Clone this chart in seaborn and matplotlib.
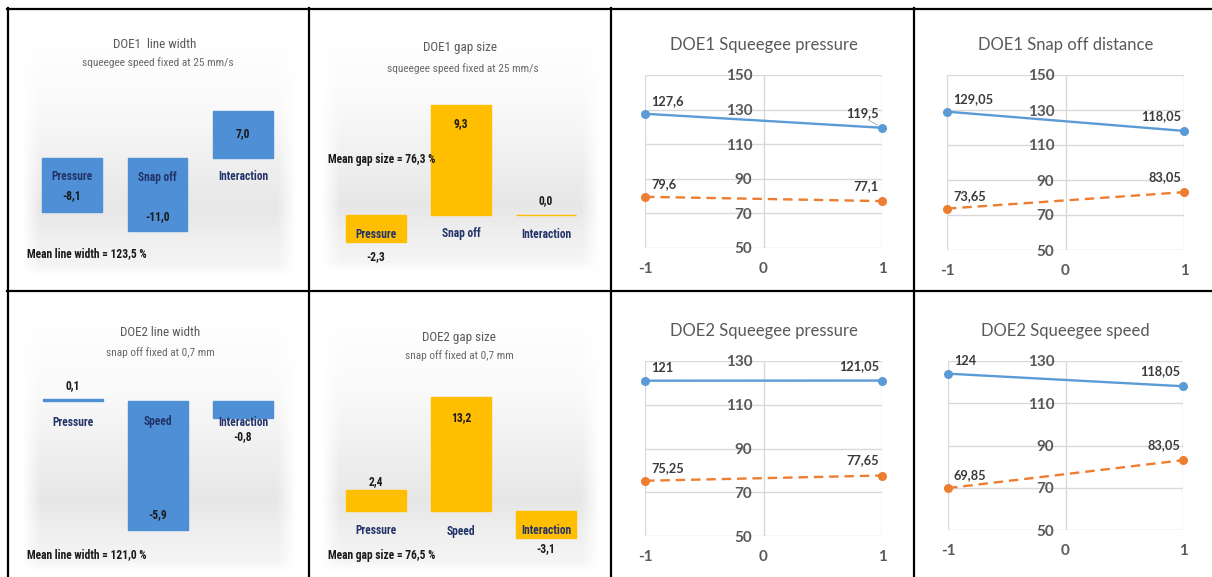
import numpy as np
import pandas as pd
import matplotlib
matplotlib.use("Agg")
import matplotlib.pyplot as plt
from matplotlib import font_manager as fm
from matplotlib.lines import Line2D
import seaborn as sns

# ---------------- data ----------------
bar_categories_doe1 = ["Pressure", "Snap off", "Interaction"]
bar_categories_doe2 = ["Pressure", "Speed", "Interaction"]
doe1_line_width_effects = [-8.1, -11.0, 7.0]
doe1_gap_size_effects = [-2.3, 9.3, 0.0]
doe2_line_width_effects = [0.1, -5.9, -0.8]
doe2_gap_size_effects = [2.4, 13.2, -3.1]
doe1_mean_line_width = 123.5
doe1_mean_gap_size = 76.3
doe2_mean_line_width = 121.0
doe2_mean_gap_size = 76.5

levels = [-1, 1]
doe1_pressure_width = [127.6, 119.5]
doe1_pressure_gap = [79.6, 77.1]
doe1_snap_width = [129.05, 118.05]
doe1_snap_gap = [73.65, 83.05]
doe2_pressure_width = [121.0, 121.05]
doe2_pressure_gap = [75.25, 77.65]
doe2_speed_width = [124.0, 118.05]
doe2_speed_gap = [69.85, 83.05]
ticks_doe1 = [50, 70, 90, 110, 130, 150]
ticks_doe2 = [50, 70, 90, 110, 130]

# ---------------- font selection ----------------
ttf = fm.fontManager.ttflist
names = {f.name for f in ttf}


def has_bold(name):
    return any(f.name == name and (f.weight in ("bold", "semibold", "demibold", "heavy", "black")
                                   or (isinstance(f.weight, int) and f.weight >= 600)) for f in ttf)


NARROW_KW = {"family": ["DejaVu Sans"], "fontstretch": "normal"}
narrow_scale = 0.82
for cand in ["Liberation Sans Narrow", "Roboto Condensed", "Open Sans Condensed",
             "Noto Sans Condensed"]:
    if cand in names:
        NARROW_KW = {"family": [cand, "DejaVu Sans"]}
        narrow_scale = 1.0
        break
else:
    if any(f.name == "DejaVu Sans" and "condensed" in str(f.stretch) for f in ttf):
        NARROW_KW = {"family": ["DejaVu Sans"], "fontstretch": "condensed"}
        narrow_scale = 0.85

LINE_FAMILY = ["DejaVu Sans"]
for cand in ["Lato", "Open Sans", "Roboto", "Noto Sans"]:
    if cand in names and has_bold(cand):
        LINE_FAMILY = [cand, "DejaVu Sans"]
        break
TITLE_FAMILY = ["Lato", "DejaVu Sans"] if "Lato" in names else LINE_FAMILY

# ---------------- figure ----------------
W, H = 1212, 577
fig = plt.figure(figsize=(W / 100, H / 100), dpi=100)
fig.patch.set_facecolor("white")


def add_ax(x0, y0, x1, y1, z=1):
    return fig.add_axes([x0 / W, 1 - y1 / H, (x1 - x0) / W, (y1 - y0) / H], zorder=z)


def ftext(x, y, s, **kw):
    fig.text(x / W, 1 - y / H, s, **kw)


def fmt1(v):
    return f"{v:.1f}".replace(".", ",")


def fmtg(v):
    return f"{v:g}".replace(".", ",")


def gradient_bg(box):
    x0, y0, x1, y1 = box
    ax = add_ax(x0, y0, x1, y1, z=0)
    h, w = int(y1 - y0), int(x1 - x0)
    yy = np.linspace(0, 1, h)[:, None]
    xx = np.arange(w)[None, :]
    vert = np.interp(yy, [0, 0.3, 0.72, 0.85, 1.0], [0.0, 0.2, 0.85, 0.55, 0.3])
    edge = np.clip(np.minimum(xx, w - 1 - xx) / 18.0, 0, 1)
    edge_y = np.clip(np.minimum(np.arange(h), h - 1 - np.arange(h)) / 10.0, 0, 1)[:, None]
    g = vert * edge * edge_y
    img = 1 - 0.11 * g
    ax.imshow(np.dstack([img, img, img]), aspect="auto", extent=(0, 1, 0, 1))
    ax.axis("off")


FS = 8.3 * narrow_scale


def bar_panel(bg_box, first_center, spacing, baseline, scale, cats, vals, color,
              val_offsets, cat_offset, title, title_xy, subtitle, sub_xy,
              mean_text, mean_xy):
    gradient_bg(bg_box)
    top, bottom = bg_box[1], bg_box[3]
    ax = add_ax(first_center - spacing / 2, top, first_center + 2.5 * spacing, bottom, z=2)
    ax.set_facecolor("none")
    df = pd.DataFrame({"cat": cats, "val": vals})
    sns.barplot(data=df, x="cat", y="val", color=color, width=0.7, ax=ax,
                saturation=1, edgecolor=color, linewidth=1)
    ax.set_xlim(-0.5, 2.5)
    ax.set_ylim(-(bottom - baseline) / scale, (baseline - top) / scale)
    ax.axis("off")
    for i, (c, v) in enumerate(zip(cats, vals)):
        ax.annotate(c, xy=(i, 0), xytext=(0, cat_offset), textcoords="offset pixels",
                    ha="center", va="center", fontsize=FS, fontweight="bold",
                    color="#23346A", **NARROW_KW)
        ax.annotate(fmt1(v), xy=(i, v), xytext=(0, val_offsets[i]),
                    textcoords="offset pixels", ha="center", va="center",
                    fontsize=FS, fontweight="bold", color="#1a1a1a", **NARROW_KW)
    ftext(*title_xy, title, ha="center", va="center", fontsize=9.4 * narrow_scale,
          color="#595959", **NARROW_KW)
    ftext(*sub_xy, subtitle, ha="center", va="center", fontsize=8.2 * narrow_scale,
          color="#6a6a6a", **NARROW_KW)
    ftext(*mean_xy, mean_text, ha="left", va="center", fontsize=FS, fontweight="bold",
          color="#1a1a1a", **NARROW_KW)


BLUE_BAR = "#4E8FD6"
GOLD_BAR = "#FFBE00"

bar_panel((22, 35, 296, 276), 72, 85.5, 158, 6.65, bar_categories_doe1,
          doe1_line_width_effects, BLUE_BAR, [16, 15, -22], -19,
          "DOE1  line width", (155, 45), "squeegee speed fixed at 25 mm/s", (158, 63),
          f"Mean line width = {fmt1(doe1_mean_line_width)} %", (27, 254))
bar_panel((322, 35, 600, 272), 376, 85, 215, 11.85, bar_categories_doe1,
          doe1_gap_size_effects, GOLD_BAR, [-14, -19, 14], -19,
          "DOE1 gap size", (460, 48), "squeegee speed fixed at 25 mm/s", (463, 69),
          f"Mean gap size = {fmt1(doe1_mean_gap_size)} %", (328, 159))
bar_panel((22, 318, 296, 572), 73, 85, 401, 21.8, bar_categories_doe2,
          doe2_line_width_effects, BLUE_BAR, [13, 15, -18], -21,
          "DOE2 line width", (160, 332), "snap off fixed at 0,7 mm", (160, 353),
          f"Mean line width = {fmt1(doe2_mean_line_width)} %", (27, 555))
bar_panel((322, 318, 600, 572), 376, 85, 511, 8.65, bar_categories_doe2,
          doe2_gap_size_effects, GOLD_BAR, [9, -21, -11], -20,
          "DOE2 gap size", (459, 338), "snap off fixed at 0,7 mm", (459, 356),
          f"Mean gap size = {fmt1(doe2_mean_gap_size)} %", (328, 556))

# ---------------- line panels ----------------
BLUE = "#5B9BD5"
ORANGE = "#ED7D31"


def line_panel(box, title, title_y, yticks, width_vals, gap_vals, leader=False):
    x0, y0, x1, y1 = box
    ax = add_ax(x0, y0, x1, y1, z=2)
    ax.set_facecolor("none")
    df = pd.DataFrame({
        "level": levels + levels,
        "value": list(width_vals) + list(gap_vals),
        "measure": ["width"] * 2 + ["gap"] * 2,
    })
    sns.lineplot(data=df, x="level", y="value", hue="measure", style="measure",
                 palette={"width": BLUE, "gap": ORANGE},
                 dashes={"width": "", "gap": (4, 2.5)},
                 markers={"width": "o", "gap": "o"}, markersize=6.5,
                 markeredgewidth=0, linewidth=1.7, legend=False, ax=ax, clip_on=False)
    ax.set_xlim(-1, 1)
    ax.set_ylim(yticks[0], yticks[-1])
    ax.set_xticks([-1, 0, 1])
    ax.set_xticklabels(["-1", "0", "1"])
    ax.set_yticks(yticks)
    ax.set_yticklabels([str(t) for t in yticks])
    ax.grid(True, color="#D9D9D9", linewidth=1)
    ax.set_axisbelow(True)
    for s in ax.spines.values():
        s.set_visible(False)
    ax.spines["left"].set_position(("data", 0))
    ax.tick_params(axis="y", length=0, pad=8, labelsize=11, labelcolor="#595959")
    ax.tick_params(axis="x", length=0, pad=10, labelsize=11, labelcolor="#595959")
    for lab in ax.get_xticklabels() + ax.get_yticklabels():
        lab.set_fontweight("bold")
        lab.set_family(LINE_FAMILY)
    ax.set_xlabel("")
    ax.set_ylabel("")
    for k, vals in enumerate((width_vals, gap_vals)):
        ax.annotate(fmtg(vals[0]), xy=(levels[0], vals[0]), xytext=(6, 13),
                    textcoords="offset pixels", ha="left", va="center", fontsize=9.2,
                    fontweight="bold", color="#3a3a3a", family=LINE_FAMILY)
        ax.annotate(fmtg(vals[1]), xy=(levels[1], vals[1]), xytext=(-3, 15),
                    textcoords="offset pixels", ha="right", va="center", fontsize=9.2,
                    fontweight="bold", color="#3a3a3a", family=LINE_FAMILY)
        if leader and k == 0:
            ax.annotate("", xy=(levels[1], vals[1]), xytext=(-14, 8),
                        textcoords="offset pixels",
                        arrowprops=dict(arrowstyle="-", color="#A6A6A6", lw=0.6,
                                        shrinkA=0, shrinkB=4))
    ftext((x0 + x1) / 2, title_y, title, ha="center", va="center", fontsize=12,
          color="#595959", family=TITLE_FAMILY)


line_panel((645, 75, 882, 248), "DOE1 Squeegee pressure", 45, ticks_doe1,
           doe1_pressure_width, doe1_pressure_gap, leader=True)
line_panel((947, 75, 1184, 250), "DOE1 Snap off distance", 45, ticks_doe1,
           doe1_snap_width, doe1_snap_gap)
line_panel((645, 361, 882, 536), "DOE2 Squeegee pressure", 331, ticks_doe2,
           doe2_pressure_width, doe2_pressure_gap)
line_panel((948, 361, 1183, 530), "DOE2 Squeegee speed", 331, ticks_doe2,
           doe2_speed_width, doe2_speed_gap)


# ---------------- table borders ----------------
def hline(y, xa, xb):
    fig.add_artist(Line2D([xa / W, xb / W], [1 - y / H, 1 - y / H], color="black",
                          lw=1.6, transform=fig.transFigure, zorder=10))


def vline(x, ya, yb):
    fig.add_artist(Line2D([x / W, x / W], [1 - ya / H, 1 - yb / H], color="black",
                          lw=1.6, transform=fig.transFigure, zorder=10))


hline(9, 7, W)
hline(291, 7, W)
for xv in (8, 309, 611, 914):
    vline(xv, 8, H)

fig.savefig("out.png", dpi=100, facecolor="white")
